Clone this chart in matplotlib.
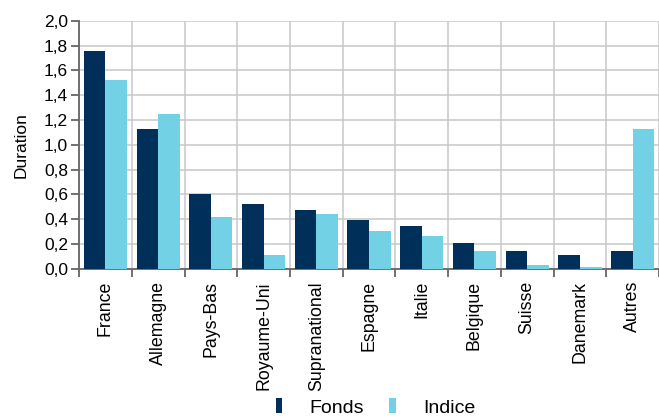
import numpy as np
import matplotlib
matplotlib.use("Agg")
import matplotlib.pyplot as plt

plt.rcParams['font.family'] = ['Liberation Sans', 'DejaVu Sans']

countries = ["France", "Allemagne", "Pays-Bas", "Royaume-Uni", "Supranational",
             "Espagne", "Italie", "Belgique", "Suisse", "Danemark", "Autres"]
fonds = [1.76, 1.13, 0.60, 0.52, 0.47, 0.39, 0.34, 0.21, 0.14, 0.11, 0.14]
indice = [1.52, 1.25, 0.42, 0.11, 0.44, 0.30, 0.26, 0.14, 0.03, 0.01, 1.13]
yticks = [0.0, 0.2, 0.4, 0.6, 0.8, 1.0, 1.2, 1.4, 1.6, 1.8, 2.0]

dark = "#00305a"
light = "#72d1e5"
grid_col = "#c8c8c8"
axis_col = "#666666"

fig = plt.figure(figsize=(6.59, 4.19), dpi=100)
ax = fig.add_axes([0.12, 0.359, 0.88, 0.591])

x = np.arange(len(countries))
w = 0.41
ax.bar(x - w / 2, fonds, width=w, color=dark, label="Fonds", zorder=3)
ax.bar(x + w / 2, indice, width=w, color=light, label="Indice", zorder=3)

ax.set_xlim(-0.5, 10.34)
ax.set_ylim(0, 2.0)

# grid on category boundaries, labels at centres
ax.set_xticks(np.arange(-0.5, len(countries), 1.0))
ax.set_xticklabels([])
ax.set_xticks(x, minor=True)
ax.set_xticklabels(countries, minor=True, rotation=90, fontsize=12.8)
ax.tick_params(axis="x", which="minor", length=0, pad=9)
ax.tick_params(axis="x", which="major", length=6, width=1.3, color=axis_col)

ax.set_yticks(yticks)
ax.set_yticklabels([f"{v:.1f}".replace(".", ",") for v in yticks], fontsize=12.5)
ax.tick_params(axis="y", length=6, width=1.3, color=axis_col, pad=2)

ax.grid(True, which="major", color=grid_col, linewidth=1.1, zorder=0)
ax.set_axisbelow(True)

for side in ["top", "right"]:
    ax.spines[side].set_visible(False)
for side in ["left", "bottom"]:
    ax.spines[side].set_color(axis_col)
    ax.spines[side].set_linewidth(1.3)

ax.set_ylabel("Duration", fontsize=12.5, labelpad=11)

fig.legend(loc="lower center", bbox_to_anchor=(0.57, -0.036), ncol=2,
           frameon=False, fontsize=14, handlelength=0.35, handleheight=0.8,
           handletextpad=1.4, columnspacing=1.3)

fig.savefig("out.png", dpi=100)
